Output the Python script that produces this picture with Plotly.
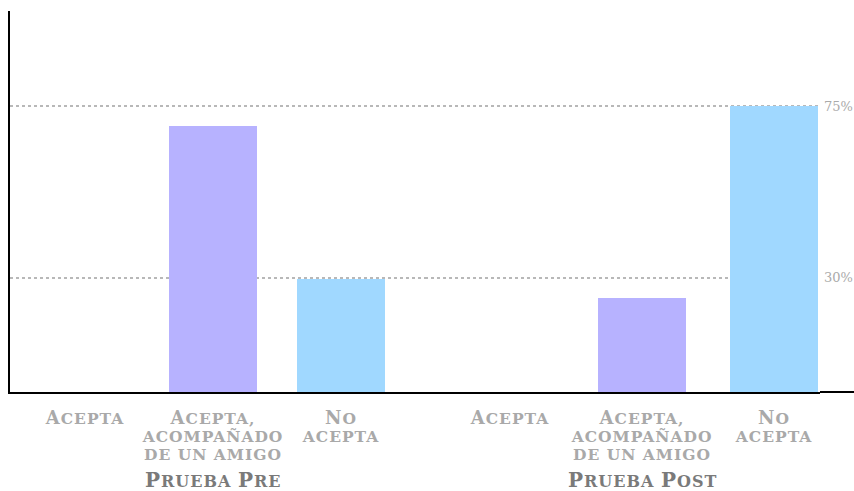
import plotly.graph_objects as go

# ---- data ----
categories = ["Acepta", "Acepta,<br>acompañado<br>de un amigo", "No<br>acepta"]
groups = ["Prueba Pre", "Prueba Post"]
pre_values = [0, 69.8, 29.6]
post_values = [0, 24.7, 75]
bar_colors = ["#b7b2ff", "#b7b2ff", "#a0d8ff"]
y_tickvals = [30, 75]
y_ticktext = ["30%", "75%"]

W, H = 854, 491
ML, MR, MT, MB = 10, 34, 11, 99
PW = W - ML - MR
PH = H - MT - MB
split = (425 - ML) / PW


def small_caps(text, big, small, spacing=1):
    """Render text in small capitals using sized spans (capitals big, others small)."""
    lines = []
    for line in text.split("<br>"):
        runs, cur, cur_big = [], "", None
        for ch in line:
            is_big = ch.isupper()
            if cur_big is None or is_big == cur_big:
                cur += ch
            else:
                runs.append((cur, cur_big))
                cur = ch
            cur_big = is_big
        if cur:
            runs.append((cur, cur_big))
        lines.append("".join(
            f"<span style='font-size:{big if b else small}px;letter-spacing:{spacing}px'>{r.upper()}</span>"
            for r, b in runs))
    return "<br>".join(lines)


tick_text = [small_caps(c, 18, 15.5) for c in categories]

label_font = dict(family="DejaVu Serif", size=14, color="#a9a9a9", weight="bold")
group_font = dict(family="DejaVu Serif", size=16, color="#7a7a7a", weight="bold")

fig = go.Figure()
fig.add_trace(go.Bar(x=categories, y=pre_values, marker=dict(color=bar_colors, line=dict(width=0)),
                     width=0.6875, xaxis="x", yaxis="y", hoverinfo="skip", showlegend=False))
fig.add_trace(go.Bar(x=categories, y=post_values, marker=dict(color=bar_colors, line=dict(width=0)),
                     width=0.667, xaxis="x2", yaxis="y2", hoverinfo="skip", showlegend=False))

grid = dict(showgrid=True, gridcolor="#b8b8b8", griddash="dot", gridwidth=1.5, automargin=False,
            zeroline=False, range=[0, 100], tickvals=y_tickvals, ticks="", fixedrange=True)

xcommon = dict(type="category", showline=True, linecolor="black", linewidth=2, ticks="",
               showgrid=False, tickfont=label_font, tickangle=0, automargin=False,
               tickvals=categories, ticktext=tick_text, ticklabelstandoff=13, fixedrange=True)

fig.update_layout(
    width=W, height=H,
    margin=dict(l=ML, r=MR, t=MT, b=MB, pad=0, autoexpand=False),
    paper_bgcolor="white", plot_bgcolor="white",
    xaxis=dict(domain=[0, split], anchor="y", range=[-0.586, 2.656], **xcommon),
    xaxis2=dict(domain=[split, 1], anchor="y2", range=[-0.644, 2.348], **xcommon),
    yaxis=dict(anchor="x", showline=True, linecolor="black", linewidth=2,
               showticklabels=False, **grid),
    yaxis2=dict(anchor="x2", side="right", showline=False, showticklabels=True,
                ticktext=y_ticktext, ticklabelstandoff=3,
                tickfont=dict(family="DejaVu Serif", size=13, color="#aaaaaa"),
                **grid),
    bargap=0,
)

for xr, g in zip(["x", "x2"], groups):
    fig.add_annotation(x=categories[1], xref=xr, y=-(480 - 392) / PH, yref="paper",
                       text=small_caps(g, 20, 16), showarrow=False, font=group_font,
                       yanchor="middle")

# baseline extends to right edge of the picture
fig.add_shape(type="line", xref="paper", yref="paper", x0=1, x1=(W - ML) / PW, y0=0, y1=0,
              line=dict(color="black", width=2), layer="above")

fig.write_html("out.html", config={"displayModeBar": False},
               post_script="document.body.style.margin='0';")
